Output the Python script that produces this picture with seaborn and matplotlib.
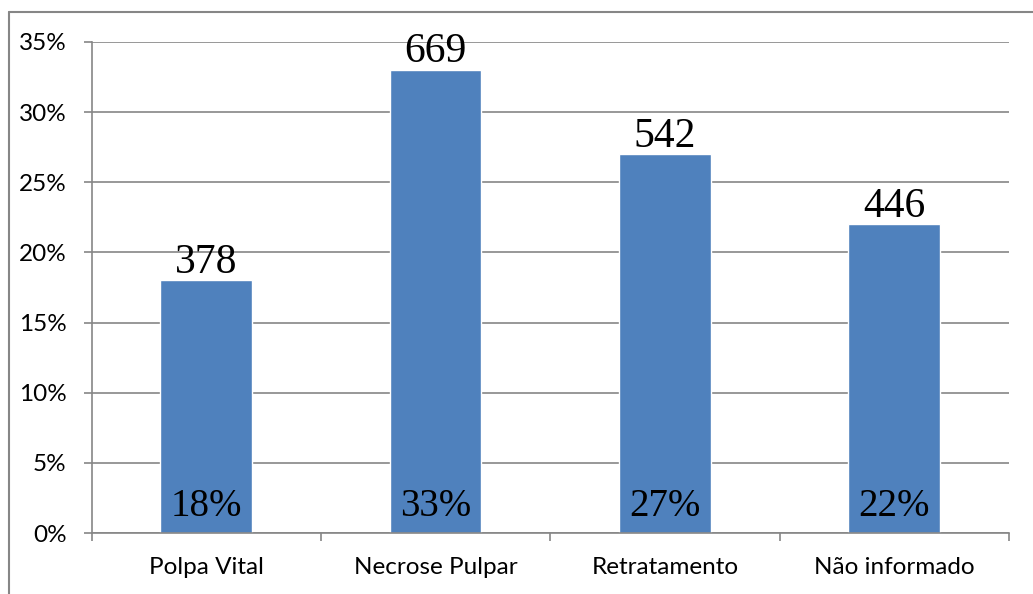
import matplotlib
matplotlib.use("Agg")
import matplotlib.pyplot as plt
from matplotlib.lines import Line2D
from matplotlib.ticker import FixedLocator, FuncFormatter
import seaborn as sns

# Diagnósticos pulpares: número de casos e percentual
categorias = ["Polpa Vital", "Necrose Pulpar", "Retratamento", "Não informado"]
percentuais = [18, 33, 27, 22]
casos = [378, 669, 542, 446]
yticks = [0, 5, 10, 15, 20, 25, 30, 35]

sns.set_theme(style="white")
plt.rcParams["font.family"] = ["Lato", "DejaVu Sans"]

cor_barra = "#4F81BD"
cinza = "#868686"

fig = plt.figure(figsize=(10.33, 5.94), dpi=100)
ax = fig.add_axes([91.5 / 1033, 1 - 533 / 594, (1009 - 91.5) / 1033, (533 - 42) / 594])

sns.barplot(x=categorias, y=percentuais, color=cor_barra, saturation=1,
            width=0.4, ax=ax, zorder=3)

ax.set_xlim(-0.5, 3.5)
ax.set_ylim(0, 35)
ax.set_xlabel("")
ax.set_ylabel("")

# Eixo y com percentuais e linhas de grade
ax.yaxis.set_major_locator(FixedLocator(yticks))
ax.yaxis.set_major_formatter(FuncFormatter(lambda v, _: f"{v:.0f}%"))
ax.grid(axis="y", color=cinza, linewidth=1.2, zorder=0)
ax.set_axisbelow(True)
ax.tick_params(axis="y", which="major", direction="out", length=6, width=1.2,
               color=cinza, pad=12, labelsize=17.5, labelcolor="black", left=True)

# Marcas do eixo x entre as categorias
ax.xaxis.set_minor_locator(FixedLocator([-0.5, 0.5, 1.5, 2.5, 3.5]))
ax.tick_params(axis="x", which="major", length=0, pad=17, labelsize=17.5,
               labelcolor="black")
ax.tick_params(axis="x", which="minor", direction="out", length=6, width=1.2,
               color=cinza, bottom=True)

for lado in ["top", "right"]:
    ax.spines[lado].set_visible(False)
for lado in ["left", "bottom"]:
    ax.spines[lado].set_color(cinza)
    ax.spines[lado].set_linewidth(1.2)
    ax.spines[lado].set_zorder(4)

# Rótulos: número de casos acima e percentual dentro das barras
for i, (p, n) in enumerate(zip(percentuais, casos)):
    ax.text(i, p + 0.55, f"{n}", ha="center", va="baseline",
            family="Liberation Serif", fontsize=30, color="black", zorder=5)
    ax.text(i, 1.2, f"{p}%", ha="center", va="baseline",
            family="Liberation Serif", fontsize=28, color="black", zorder=5)

# Moldura da área do gráfico
fig.add_artist(Line2D([9 / 1033, 1], [1 - 12 / 594, 1 - 12 / 594],
                      transform=fig.transFigure, color=cinza, linewidth=1.5))
fig.add_artist(Line2D([9 / 1033, 9 / 1033], [0, 1 - 12 / 594],
                      transform=fig.transFigure, color=cinza, linewidth=1.5))

fig.savefig("out.png", dpi=100)
